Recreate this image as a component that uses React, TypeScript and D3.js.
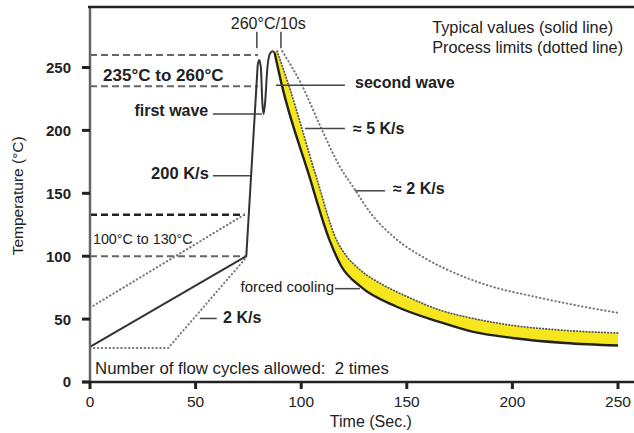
import * as d3 from "d3";

type Pt = [number, number];

// x = time (s), y = temperature (°C)
const xTicks = [0, 50, 100, 150, 200, 250];
const yTicks = [0, 50, 100, 150, 200, 250];

// typical profile (solid line), split where the shape changes
const heatTypical: Pt[] = [[0, 28], [74, 100], [79.4, 252]];
const waveTypical: Pt[] = [
  [79.4, 252], [80.1, 256], [80.9, 250], [81.6, 222], [82.2, 213],
  [82.9, 222], [84, 250], [85.2, 261], [86.4, 263], [87.4, 262],
];
const coolTypical: Pt[] = [
  [87.4, 262], [90.7, 237], [103.4, 166], [113.6, 112], [119, 92], [128, 76],
  [145, 60], [165, 48], [181, 40], [200, 35], [225, 31], [250, 29],
];

// process limits (dotted lines)
const heatUpper: Pt[] = [[0, 59], [74, 134]];
const heatLower: Pt[] = [[0, 27], [37, 27], [74, 99]];
const coolInner: Pt[] = [
  [88.6, 263], [93.9, 237], [106.8, 165], [117, 112], [121.5, 100], [128, 89],
  [139, 77], [150, 68], [166, 57], [180, 51], [200, 45], [225, 41], [250, 39],
];
const coolOuter: Pt[] = [
  [91, 263], [100, 237], [109.7, 201], [118, 172], [125, 154], [133, 134],
  [144, 115], [159, 98], [175, 85], [190, 76], [210, 68], [230, 61], [250, 55],
];

// dashed guide levels: [temperature, end time]
const guides: Pt[] = [[260, 79.5], [235, 79.5], [133, 73.4], [100, 73.4]];

const font = "'Liberation Sans', Arial, sans-serif";

export default function App() {
  const W = 634;
  const H = 433;
  const x = d3.scaleLinear().domain([0, 250]).range([90, 618]);
  const y = d3.scaleLinear().domain([0, 250]).range([382, 67.5]);
  const yTop = 298;

  const lin = d3.line<Pt>().x((d) => x(d[0])).y((d) => y(d[1]));
  const mono = d3
    .line<Pt>()
    .x((d) => x(d[0]))
    .y((d) => y(d[1]))
    .curve(d3.curveMonotoneX);

  const bandPath =
    (mono(coolInner) ?? "") +
    (mono([...coolTypical].reverse()) ?? "").replace(/^M/, "L") +
    "Z";

  const leader = (t0: number, t1: number, v: number) => (
    <line x1={x(t0)} x2={x(t1)} y1={y(v)} y2={y(v)} stroke="#444" strokeWidth={1.5} />
  );

  const dotted = { fill: "none", stroke: "#777", strokeWidth: 2, strokeDasharray: "0.5 3.4", strokeLinecap: "round" as const };

  return (
    <svg
      width={W}
      height={H}
      style={{ position: "absolute", left: 0, top: 0, background: "#fff" }}
      fontFamily={font}
    >
      {/* yellow band between typical cooling and inner limit */}
      <path d={bandPath} fill="#f6e61e" stroke="none" />

      {/* dashed guides */}
      {guides.map(([v, tEnd], i) => (
        <line
          key={i}
          x1={x(0)}
          x2={x(tEnd)}
          y1={y(v)}
          y2={y(v)}
          stroke={v === 133 ? "#222" : "#666"}
          strokeWidth={v === 133 ? 2.6 : 2}
          strokeDasharray="7 4"
        />
      ))}

      {/* process limits */}
      <path d={lin(heatUpper) ?? ""} {...dotted} />
      <path d={lin(heatLower) ?? ""} {...dotted} />
      <path d={mono(coolOuter) ?? ""} {...dotted} />
      <path d={mono(coolInner) ?? ""} {...dotted} stroke="#555" strokeWidth={1.8} strokeDasharray="0.5 2.6" />

      {/* typical profile */}
      <path d={lin(heatTypical) ?? ""} fill="none" stroke="#333" strokeWidth={2} strokeLinejoin="round" />
      <path d={mono(waveTypical) ?? ""} fill="none" stroke="#333" strokeWidth={2} strokeLinejoin="round" />
      <path d={mono(coolTypical) ?? ""} fill="none" stroke="#222" strokeWidth={2.4} strokeLinejoin="round" />

      {/* frame and axes */}
      <line x1={x(0)} x2={x(0)} y1={y(0)} y2={y(yTop)} stroke="#666" strokeWidth={2.5} />
      <line x1={x(0) - 2} x2={W} y1={y(yTop)} y2={y(yTop)} stroke="#222" strokeWidth={2.5} />
      <line x1={x(0) - 8} x2={W} y1={y(0)} y2={y(0)} stroke="#222" strokeWidth={2.5} />
      {yTicks.map((v) => (
        <g key={v}>
          <line x1={x(0) - 8} x2={x(0)} y1={y(v)} y2={y(v)} stroke="#222" strokeWidth={3} />
          <text x={x(0) - 19} y={y(v)} dy="0.36em" textAnchor="end" fontSize={15} fontWeight={700} fill="#222">
            {v}
          </text>
        </g>
      ))}
      {xTicks.map((t) => (
        <g key={t}>
          <line x1={x(t)} x2={x(t)} y1={y(0)} y2={y(0) + 7} stroke="#222" strokeWidth={3} />
          <text x={x(t)} y={y(0) + 25} textAnchor="middle" fontSize={15.5} fill="#222">
            {t}
          </text>
        </g>
      ))}
      <text x={x(133)} y={427} textAnchor="middle" fontSize={16} fill="#222">
        Time (Sec.)
      </text>
      <text
        transform={`translate(23,${y(148)}) rotate(-90)`}
        textAnchor="middle"
        fontSize={15.5}
        fill="#222"
      >
        Temperature (°C)
      </text>

      {/* 260°C/10s marker */}
      <line x1={x(79)} x2={x(79)} y1={y(278.4)} y2={y(265.3)} stroke="#444" strokeWidth={1.5} />
      <line x1={x(90.4)} x2={x(90.4)} y1={y(278.4)} y2={y(265.3)} stroke="#444" strokeWidth={1.5} />
      <text x={x(84.4)} y={y(280.5)} textAnchor="middle" fontSize={16} fill="#222">
        260°C/10s
      </text>

      {/* legend text */}
      <text x={x(162)} y={y(277.3)} fontSize={16.3} fill="#222">
        Typical values (solid line)
      </text>
      <text x={x(162)} y={y(261.5)} fontSize={16.3} fill="#222">
        Process limits (dotted line)
      </text>

      {/* annotations */}
      <text x={x(6.2)} y={y(239.3)} fontSize={17} fontWeight={700} fill="#222">
        235°C to 260°C
      </text>
      {leader(58.2, 81.4, 213)}
      <text x={x(56)} y={y(211.6)} textAnchor="end" fontSize={16} fontWeight={700} fill="#222">
        first wave
      </text>
      {leader(58.2, 75.8, 164)}
      <text x={x(56.3)} y={y(161.6)} textAnchor="end" fontSize={16.5} fontWeight={700} fill="#222">
        200 K/s
      </text>
      {leader(88, 120.7, 235.9)}
      <text x={x(125.5)} y={y(233.8)} fontSize={16} fontWeight={700} fill="#222">
        second wave
      </text>
      {leader(101.8, 120.7, 201.5)}
      <text x={x(124.5)} y={y(197.3)} fontSize={16} fontWeight={700} fill="#222">
        ≈ 5 K/s
      </text>
      {leader(125.5, 139.7, 152)}
      <text x={x(143.5)} y={y(149.8)} fontSize={16} fontWeight={700} fill="#222">
        ≈ 2 K/s
      </text>
      <text x={x(1.4)} y={y(109.4)} fontSize={14.3} fill="#222">
        100°C to 130°C
      </text>
      {leader(116, 127.8, 74.2)}
      <text x={x(116)} y={y(71.6)} dx={-1} textAnchor="end" fontSize={15} fill="#222">
        forced cooling
      </text>
      {leader(52, 60, 50.5)}
      <text x={x(63)} y={y(46.8)} fontSize={16} fontWeight={700} fill="#222">
        2 K/s
      </text>
      <text x={x(2.4)} y={y(6)} fontSize={16.8} fill="#222" style={{ whiteSpace: "pre" }}>
        Number of flow cycles allowed:  2 times
      </text>
    </svg>
  );
}
